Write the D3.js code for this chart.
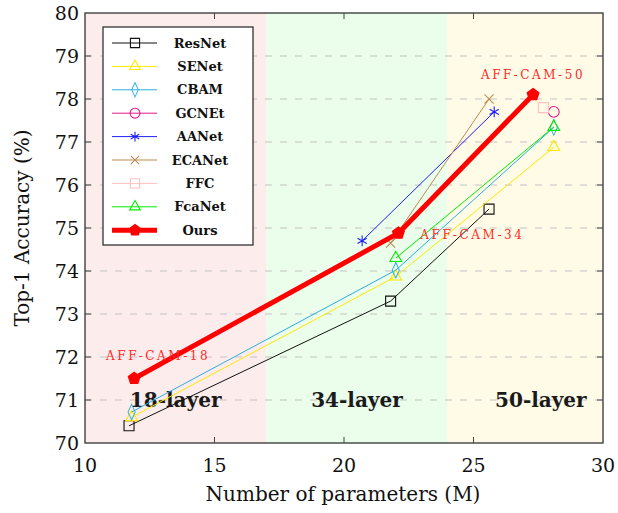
<!DOCTYPE html>
<html>
<head>
<meta charset="utf-8">
<script src="https://cdn.jsdelivr.net/npm/d3@7"></script>
<style>
  html, body { margin: 0; padding: 0; background: #fff; }
  text { font-family: "DejaVu Serif", "Liberation Serif", serif; }
</style>
</head>
<body>
<div id="chart"></div>
<script>
// series data (params in M, top-1 accuracy in %)
const resnetX = [11.7, 21.8, 25.6];
const resnetY = [70.4, 73.3, 75.44];
const senetX = [11.8, 22.0, 28.1];
const senetY = [70.6, 73.87, 76.88];
const cbamX = [11.8, 22.0, 28.1];
const cbamY = [70.72, 74.02, 77.34];
const gcnetX = [28.1];
const gcnetY = [77.7];
const aanetX = [20.7, 25.8];
const aanetY = [74.7, 77.7];
const ecanetX = [21.8, 25.6];
const ecanetY = [74.65, 78.0];
const ffcX = [27.7];
const ffcY = [77.8];
const fcanetX = [22.0, 28.1];
const fcanetY = [74.3, 77.35];
const oursX = [11.9, 22.1, 27.3];
const oursY = [71.5, 74.88, 78.1];

const oursLabels = ['AFF-CAM-18', 'AFF-CAM-34', 'AFF-CAM-50'];
const layerNames = ['18-layer', '34-layer', '50-layer'];
const layerSpans = [[10, 17], [17, 24], [24, 30]];
const layerLabelX = [13.5, 20.5, 27.6];

const xTicks = [10, 15, 20, 25, 30];
const yTicks = [70, 71, 72, 73, 74, 75, 76, 77, 78, 79, 80];

const series = [
  { name: 'ResNet', x: resnetX, y: resnetY, color: '#111111', marker: 'square', width: 1 },
  { name: 'SENet', x: senetX, y: senetY, color: '#ffe800', marker: 'triangle', width: 1 },
  { name: 'CBAM', x: cbamX, y: cbamY, color: '#29aee0', marker: 'diamond', width: 1 },
  { name: 'GCNEt', x: gcnetX, y: gcnetY, color: '#e6168a', marker: 'circle', width: 1 },
  { name: 'AANet', x: aanetX, y: aanetY, color: '#1f1ff5', marker: 'star', width: 1 },
  { name: 'ECANet', x: ecanetX, y: ecanetY, color: '#bf8a50', marker: 'x', width: 1 },
  { name: 'FFC', x: ffcX, y: ffcY, color: '#ffc0c0', marker: 'square', width: 1 },
  { name: 'FcaNet', x: fcanetX, y: fcanetY, color: '#00ee00', marker: 'triangle', width: 1 },
  { name: 'Ours', x: oursX, y: oursY, color: '#ff0000', marker: 'pentagon', width: 5 }
];

const W = 618, H = 513;
const margin = { left: 85, right: 15, top: 13, bottom: 70 };

const svg = d3.select('#chart').append('svg')
  .attr('width', W).attr('height', H);

const x = d3.scaleLinear().domain([10, 30]).range([margin.left, W - margin.right]);
const y = d3.scaleLinear().domain([70, 80]).range([H - margin.bottom, margin.top]);

// background bands
const bandColors = ['#fdecec', '#ebfdeb', '#fffbe6'];
svg.selectAll('rect.band').data(layerSpans).enter().append('rect')
  .attr('x', d => x(d[0])).attr('width', d => x(d[1]) - x(d[0]))
  .attr('y', y(80)).attr('height', y(70) - y(80))
  .attr('fill', (d, i) => bandColors[i]);

// grid
svg.selectAll('line.grid').data(yTicks.slice(1, -1)).enter().append('line')
  .attr('x1', x(10)).attr('x2', x(30))
  .attr('y1', d => y(d)).attr('y2', d => y(d))
  .attr('stroke', '#c4c4c4').attr('stroke-width', 1.2)
  .attr('stroke-dasharray', '7,8');

// layer labels
svg.selectAll('text.layer').data(layerNames).enter().append('text')
  .attr('x', (d, i) => x(layerLabelX[i])).attr('y', y(71))
  .attr('dy', '0.35em')
  .attr('text-anchor', 'middle')
  .attr('font-weight', 'bold').attr('font-size', 20)
  .attr('fill', '#1a1a1a')
  .text(d => d);

function markerPath(type, s) {
  const sym = {
    square: d3.symbolSquare, triangle: d3.symbolTriangle, diamond: d3.symbolDiamond,
    circle: d3.symbolCircle, star: d3.symbolAsterisk, x: d3.symbolX
  };
  if (type === 'pentagon') {
    const r = s;
    const pts = d3.range(5).map(i => {
      const a = -Math.PI / 2 + i * 2 * Math.PI / 5;
      return [r * Math.cos(a), r * Math.sin(a)];
    });
    return 'M' + pts.join('L') + 'Z';
  }
  const size = { square: 100, triangle: 60, diamond: 70, circle: 90, star: 80, x: 55 }[type];
  return d3.symbol(sym[type], size * s * s / 36)();
}

function drawMarker(g, d, px, py, scale) {
  const filled = d.marker === 'pentagon';
  g.append('path')
    .attr('d', markerPath(d.marker, scale))
    .attr('transform', `translate(${px},${py})` + (d.marker === 'diamond' ? ' scale(0.8,1)' : ''))
    .attr('fill', filled ? d.color : 'none')
    .attr('stroke', d.color)
    .attr('stroke-width', filled ? 1.5 : 1.1);
}

const line = d3.line();
const plot = svg.append('g');
series.forEach(d => {
  const pts = d.x.map((v, i) => [x(v), y(d.y[i])]);
  if (pts.length > 1) {
    plot.append('path').attr('d', line(pts))
      .attr('fill', 'none').attr('stroke', d.color)
      .attr('stroke-width', d.width).attr('stroke-linejoin', 'round');
  }
  pts.forEach(p => drawMarker(plot, d, p[0], p[1], 6));
});

// AFF-CAM labels
const labelDx = [24, 74, 0];
const labelDy = [-23, 2, -20];
svg.selectAll('text.aff').data(oursLabels).enter().append('text')
  .attr('x', (d, i) => x(oursX[i]) + labelDx[i])
  .attr('y', (d, i) => y(oursY[i]) + labelDy[i])
  .attr('dy', '0.35em')
  .attr('text-anchor', 'middle')
  .attr('font-size', 12).attr('letter-spacing', 2.6)
  .attr('fill', '#ff2a2a')
  .text(d => d);

// axes frame and ticks
svg.append('rect')
  .attr('x', x(10)).attr('y', y(80))
  .attr('width', x(30) - x(10)).attr('height', y(70) - y(80))
  .attr('fill', 'none').attr('stroke', '#222').attr('stroke-width', 1.2);

const tickLen = 6;
yTicks.slice(1, -1).forEach(t => {
  svg.append('line').attr('x1', x(10)).attr('x2', x(10) + tickLen)
    .attr('y1', y(t)).attr('y2', y(t)).attr('stroke', '#444');
  svg.append('line').attr('x1', x(30)).attr('x2', x(30) - tickLen)
    .attr('y1', y(t)).attr('y2', y(t)).attr('stroke', '#444');
});
xTicks.slice(1, -1).forEach(t => {
  svg.append('line').attr('x1', x(t)).attr('x2', x(t))
    .attr('y1', y(70)).attr('y2', y(70) - tickLen).attr('stroke', '#444');
  svg.append('line').attr('x1', x(t)).attr('x2', x(t))
    .attr('y1', y(80)).attr('y2', y(80) + tickLen).attr('stroke', '#444');
});

svg.selectAll('text.yt').data(yTicks).enter().append('text')
  .attr('x', x(10) - 6).attr('y', d => y(d)).attr('dy', '0.35em')
  .attr('text-anchor', 'end').attr('font-size', 19).attr('fill', '#111')
  .text(d => d);
svg.selectAll('text.xt').data(xTicks).enter().append('text')
  .attr('x', d => x(d)).attr('y', y(70) + 22).attr('dy', '0.35em')
  .attr('text-anchor', 'middle').attr('font-size', 19).attr('fill', '#111')
  .text(d => d);

svg.append('text')
  .attr('x', (x(10) + x(30)) / 2 - 1).attr('y', 494).attr('dy', '0.35em')
  .attr('text-anchor', 'middle').attr('font-size', 20).attr('fill', '#111')
  .text('Number of parameters (M)');
svg.append('text')
  .attr('transform', `translate(22,${(y(70) + y(80)) / 2}) rotate(-90)`)
  .attr('dy', '0.35em')
  .attr('text-anchor', 'middle').attr('font-size', 20).attr('fill', '#111')
  .text('Top-1 Accuracy (%)');

// legend
const lg = svg.append('g').attr('transform', 'translate(103,27)');
lg.append('rect').attr('width', 150).attr('height', 218)
  .attr('fill', '#fff').attr('stroke', '#222').attr('stroke-width', 1.2);
series.forEach((d, i) => {
  const ly = 16 + i * 23.4;
  lg.append('line').attr('x1', 9).attr('x2', 54).attr('y1', ly).attr('y2', ly)
    .attr('stroke', d.color).attr('stroke-width', d.width);
  drawMarker(lg, d, 32, ly, 5.5);
  lg.append('text').attr('x', 97).attr('y', ly).attr('dy', '0.35em')
    .attr('text-anchor', 'middle').attr('font-weight', 'bold').attr('font-size', 13)
    .attr('fill', '#111')
    .text(d.name);
});
</script>
</body>
</html>
